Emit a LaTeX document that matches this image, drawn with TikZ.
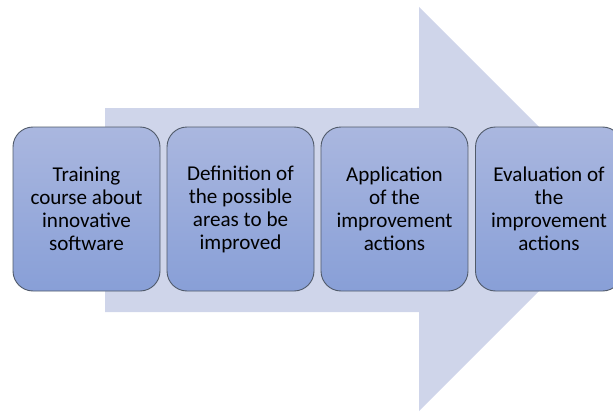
\documentclass[tikz,border=0pt]{standalone}
\usepackage{fontspec}
\setmainfont{Carlito}
\definecolor{arrowfill}{HTML}{CFD5EA}
\definecolor{boxtop}{HTML}{AAB7DF}
\definecolor{boxbot}{HTML}{889FD7}
\definecolor{boxline}{HTML}{505A6A}
\begin{document}
\begin{tikzpicture}[x=1pt,y=-1pt,
  stagebox/.style={draw=boxline, line width=0.9pt, rounded corners=20pt,
    top color=boxtop, bottom color=boxbot, minimum height=164pt,
    align=center, font=\fontsize{21.1}{23}\selectfont, text=black, inner sep=0pt}]
\useasboundingbox (0,0) rectangle (613,412);
\clip (0,0) rectangle (613,412);
\fill[arrowfill] (105,108) -- (419,108) -- (419,7) -- (621,209) -- (419,411) -- (419,312) -- (105,312) -- cycle;
\node[stagebox, minimum width=147pt] (s1) at (86.5,209) {Training\\course about\\innovative\\software};
\node[stagebox, minimum width=147pt] (s2) at (240.5,209) {Definition of\\the possible\\areas to be\\improved};
\node[stagebox, minimum width=147pt] (s3) at (394.5,209) {Application\\of the\\improvement\\actions};
\node[stagebox, minimum width=147pt] (s4) at (549,209) {Evaluation of\\the\\improvement\\actions};
\end{tikzpicture}
\end{document}
